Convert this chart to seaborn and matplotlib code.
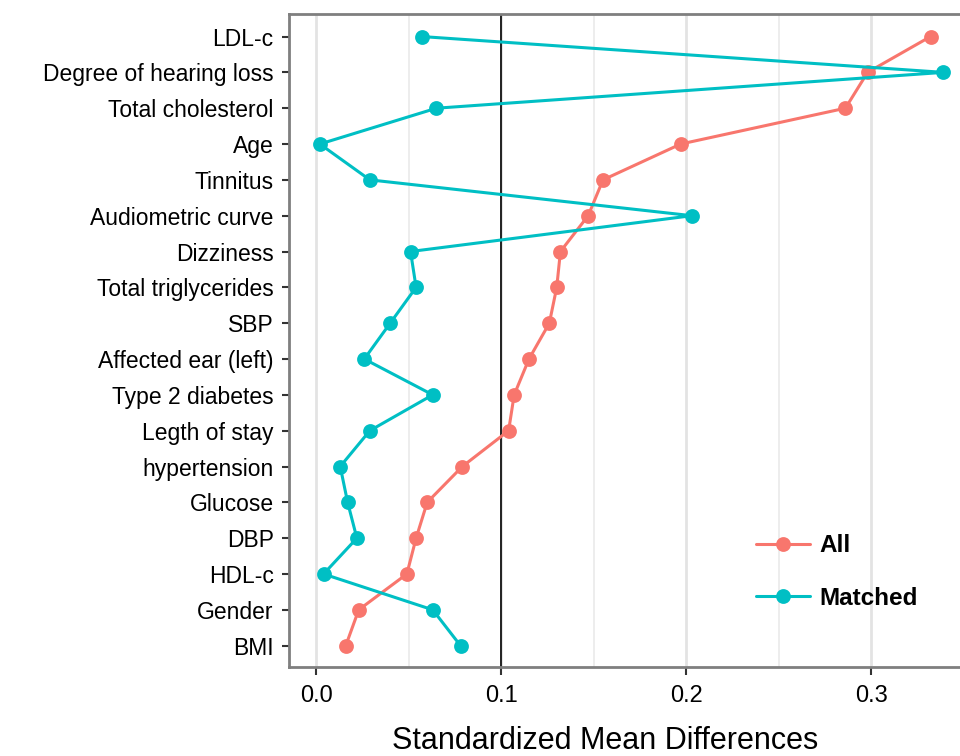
import pandas as pd
import seaborn as sns
import matplotlib.pyplot as plt
from matplotlib.ticker import MultipleLocator

# covariates, top to bottom
variables = ["LDL-c", "Degree of hearing loss", "Total cholesterol", "Age", "Tinnitus",
             "Audiometric curve", "Dizziness", "Total triglycerides", "SBP",
             "Affected ear (left)", "Type 2 diabetes", "Legth of stay", "hypertension",
             "Glucose", "DBP", "HDL-c", "Gender", "BMI"]

# standardized mean differences
smd_all = [0.332, 0.298, 0.286, 0.197, 0.155, 0.147, 0.132, 0.130, 0.126,
           0.115, 0.107, 0.104, 0.079, 0.060, 0.054, 0.049, 0.023, 0.016]
smd_matched = [0.057, 0.339, 0.065, 0.002, 0.029, 0.203, 0.051, 0.054, 0.040,
               0.026, 0.063, 0.029, 0.013, 0.017, 0.022, 0.004, 0.063, 0.078]

df = pd.DataFrame({
    "variable": variables * 2,
    "smd": smd_all + smd_matched,
    "group": ["All"] * len(variables) + ["Matched"] * len(variables),
})

sns.set_style("white")
plt.rcParams["font.family"] = ["Liberation Sans", "DejaVu Sans"]
plt.rcParams["text.color"] = "black"

fig = plt.figure(figsize=(9.6, 7.56), dpi=100)
ax = fig.add_axes([0.301, 0.118, 0.703, 0.864])

# grid first so the lines sit under the points
ax.set_axisbelow(True)
ax.xaxis.set_major_locator(MultipleLocator(0.1))
ax.xaxis.set_minor_locator(MultipleLocator(0.05))
ax.grid(which="major", color="#E3E3E3", linewidth=2.0)
ax.grid(which="minor", axis="x", color="#E8E8E8", linewidth=1.1)

sns.pointplot(data=df, x="smd", y="variable", hue="group", order=variables,
              palette={"All": "#F8766D", "Matched": "#00BFC4"},
              errorbar=None, markers="o", linestyles="-",
              markersize=9, linewidth=2.2, ax=ax)

ax.axvline(0.1, color="black", linewidth=1.2, zorder=1)

ax.set_xlim(-0.0147, 0.35)
ax.set_ylim(len(variables) - 1 + 0.59, -0.64)
ax.set_xticks([0.0, 0.1, 0.2, 0.3])
ax.set_xticklabels(["0.0", "0.1", "0.2", "0.3"])

for s in ax.spines.values():
    s.set_color("#7F7F7F")
    s.set_linewidth(2)

ax.tick_params(axis="y", which="major", left=True, length=5, width=1.5,
               color="#333333", labelsize=16.5, labelcolor="black", pad=6)
ax.tick_params(axis="x", which="major", bottom=True, length=6, width=1.5,
               color="#333333", labelsize=17, labelcolor="black", pad=7)
ax.tick_params(axis="x", which="minor", bottom=False)

ax.set_ylabel("")
ax.set_xlabel("Standardized Mean Differences", fontsize=22, color="black")
ax.xaxis.set_label_coords(0.468, -0.09)

leg = ax.legend(title=None, frameon=False, loc="center left",
                bbox_to_anchor=(0.66, 0.145), fontsize=17.5,
                handlelength=2.2, labelspacing=1.2, handletextpad=0.4)
for t in leg.get_texts():
    t.set_fontweight("bold")
    t.set_color("black")

fig.savefig("out.png", dpi=100)
